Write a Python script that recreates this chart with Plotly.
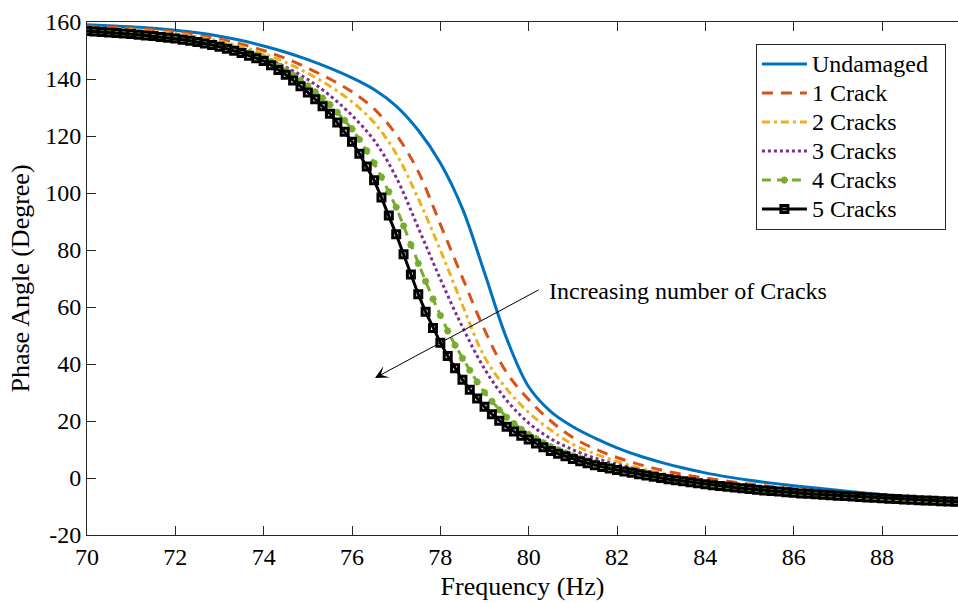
import numpy as np
import plotly.graph_objects as go

# Frequency grids (Hz)
freq_fine = np.linspace(70, 90, 121)     # 1/6 Hz sampling (marker series)
freq_coarse = np.linspace(70, 90, 41)    # 0.5 Hz sampling (line-only series)

# Phase angle (degree)
undamaged = [159.0, 158.7, 158.3, 157.8, 157.1, 156.2, 155.0, 153.5, 151.6, 149.4,
             146.8, 143.8, 140.4, 136.3, 130.5, 122.0, 110.5, 94.5, 72.0, 49.0,
             32.0, 23.3, 18.0, 14.0, 10.6, 7.8, 5.5, 3.5, 1.8, 0.4,
             -0.8, -1.8, -2.7, -3.5, -4.3, -5.1, -5.9, -6.6, -7.2, -7.8, -8.3]

crack1 = [158.5, 158.2, 157.8, 157.2, 156.5, 155.4, 154.0, 152.2, 150.0, 147.2,
          143.8, 140.0, 135.5, 129.5, 120.5, 107.5, 89.0, 70.3, 52.0, 37.0,
          27.5, 20.0, 14.2, 10.2, 7.2, 4.8, 2.8, 1.2, 0.0, -1.1,
          -2.1, -3.0, -3.8, -4.5, -5.1, -5.7, -6.3, -6.9, -7.5, -8.0, -8.5]

crack2 = [158.0, 157.7, 157.3, 156.7, 156.0, 154.8, 153.3, 151.3, 148.9, 145.8,
          142.0, 137.5, 132.0, 124.7, 113.8, 98.0, 80.0, 60.7, 42.5, 31.3,
          23.0, 16.8, 11.8, 8.5, 5.8, 3.5, 1.7, 0.2, -1.0, -2.1,
          -3.0, -3.8, -4.5, -5.1, -5.7, -6.2, -6.8, -7.3, -7.8, -8.2, -8.6]

crack3 = [157.5, 157.1, 156.6, 156.0, 155.2, 154.0, 152.4, 150.3, 147.6, 144.2,
          139.8, 134.2, 127.2, 118.5, 105.5, 87.8, 69.8, 53.0, 38.3, 27.3,
          19.3, 13.8, 9.9, 7.0, 4.8, 2.9, 1.2, -0.2, -1.4, -2.4,
          -3.3, -4.1, -4.8, -5.4, -6.0, -6.5, -7.0, -7.5, -7.9, -8.3, -8.6]

crack4 = [157.0, 156.85, 156.7, 156.55, 156.4, 156.25,
          156.1, 155.9, 155.65, 155.4, 155.15, 154.9,
          154.6, 154.25, 153.85, 153.4, 152.95, 152.45,
          151.9, 151.3, 150.6, 149.9, 149.15, 148.35,
          147.5, 146.1, 144.6, 143.0, 141.3, 139.5,
          137.6, 135.5, 133.3, 131.0, 128.3, 125.5,
          122.5, 118.8, 114.8, 110.5, 105.6, 100.4,
          95.0, 88.5, 81.8, 75.3, 69.0, 62.8,
          57.0, 51.6, 46.6, 42.0, 37.8, 33.7,
          30.0, 26.9, 23.9, 21.3, 19.1, 17.1,
          15.3, 13.8, 12.4, 11.0, 9.9, 8.8,
          7.8, 6.9, 6.0, 5.1, 4.5, 3.9,
          3.3, 2.8, 2.3, 1.8, 1.3, 0.8,
          0.3, -0.1, -0.5, -0.9, -1.25, -1.65,
          -2.0, -2.3, -2.6, -2.9, -3.15, -3.45,
          -3.7, -3.95, -4.2, -4.4, -4.6, -4.85,
          -5.05, -5.25, -5.4, -5.6, -5.75, -5.95,
          -6.1, -6.25, -6.4, -6.55, -6.7, -6.85,
          -7.0, -7.15, -7.3, -7.45, -7.6, -7.7,
          -7.85, -7.95, -8.1, -8.2, -8.3, -8.45,
          -8.55]

crack5 = [156.8, 156.65, 156.5, 156.35, 156.15, 156.0,
          155.8, 155.55, 155.3, 155.05, 154.75, 154.5,
          154.2, 153.8, 153.4, 152.95, 152.45, 151.9,
          151.3, 150.6, 149.9, 149.1, 148.2, 147.3,
          146.3, 144.8, 143.2, 141.5, 139.5, 137.5,
          135.3, 132.9, 130.4, 127.8, 124.7, 121.5,
          118.0, 113.8, 109.3, 104.5, 98.4, 92.1,
          85.5, 78.5, 71.4, 64.5, 58.3, 52.6,
          47.5, 42.8, 38.5, 34.5, 31.0, 27.9,
          25.0, 22.4, 20.1, 18.0, 16.3, 14.8,
          13.5, 12.1, 10.8, 9.5, 8.5, 7.6,
          6.7, 5.9, 5.2, 4.5, 3.9, 3.3,
          2.8, 2.3, 1.8, 1.3, 0.85, 0.4,
          0.0, -0.4, -0.75, -1.1, -1.5, -1.85,
          -2.2, -2.5, -2.8, -3.1, -3.35, -3.6,
          -3.9, -4.1, -4.35, -4.55, -4.75, -5.0,
          -5.2, -5.4, -5.55, -5.7, -5.85, -6.05,
          -6.2, -6.35, -6.5, -6.65, -6.8, -6.95,
          -7.1, -7.25, -7.4, -7.5, -7.65, -7.8,
          -7.9, -8.0, -8.15, -8.25, -8.35, -8.5,
          -8.6]

series_names = ["Undamaged", "1 Crack", "2 Cracks", "3 Cracks", "4 Cracks", "5 Cracks"]
x_ticks = [70, 72, 74, 76, 78, 80, 82, 84, 86, 88]
y_ticks = [-20, 0, 20, 40, 60, 80, 100, 120, 140, 160]
y_tick_text = ["-20", "0", "20", "40", "60", "80", "100", "120", "140", "160"]

FONT = "Liberation Serif"
AX = "#262626"


def leg(name, pad=""):
    return "<span style='font-size:24px'>" + name + pad + "</span>"


fig = go.Figure()
fig.add_trace(go.Scatter(x=freq_coarse, y=undamaged, name=leg(series_names[0], "&nbsp;&nbsp;"),
                         mode="lines",
                         line=dict(color="#0072BD", width=3, shape="spline")))
fig.add_trace(go.Scatter(x=freq_coarse, y=crack1, name=leg(series_names[1]), mode="lines",
                         line=dict(color="#D95319", width=3, dash="11px,8px", shape="spline")))
fig.add_trace(go.Scatter(x=freq_coarse, y=crack2, name=leg(series_names[2]), mode="lines",
                         line=dict(color="#EDB120", width=3, dash="8px,4px,3px,4px", shape="spline")))
fig.add_trace(go.Scatter(x=freq_coarse, y=crack3, name=leg(series_names[3]), mode="lines",
                         line=dict(color="#7E2F8E", width=3, dash="3px,3px", shape="spline")))
fig.add_trace(go.Scatter(x=freq_fine, y=crack4, name=leg(series_names[4]), mode="lines+markers",
                         line=dict(color="#77AC30", width=3, dash="9px,6px"),
                         marker=dict(symbol="asterisk-open", size=6, color="#77AC30",
                                     line=dict(color="#77AC30", width=2))))
fig.add_trace(go.Scatter(x=freq_fine, y=crack5, name=leg(series_names[5]), mode="lines+markers",
                         line=dict(color="black", width=3),
                         marker=dict(symbol="square-open", size=7, color="black",
                                     line=dict(color="black", width=3))))

fig.add_annotation(x=76.52, y=35.1, ax=80.26, ay=66.3, xref="x", yref="y",
                   axref="x", ayref="y", text="", showarrow=True,
                   arrowhead=3, arrowsize=2.2, arrowwidth=1, arrowcolor="black")
fig.add_annotation(x=80.42, y=65.6, xref="x", yref="y", text="Increasing number of Cracks",
                   showarrow=False, xanchor="left", yanchor="middle",
                   font=dict(family=FONT, size=24, color="black"))

fig.update_layout(
    width=958, height=603,
    margin=dict(l=87, r=0, t=22, b=68),
    paper_bgcolor="white", plot_bgcolor="white",
    font=dict(family=FONT, color="black"),
    showlegend=True,
    legend=dict(x=0.768, y=0.958, xanchor="left", yanchor="top",
                bgcolor="white", bordercolor=AX, borderwidth=1,
                font=dict(family=FONT, size=20, color="black"),
                itemwidth=45, tracegroupgap=0),
    xaxis=dict(range=[70, 89.72], tickvals=x_ticks, ticks="inside", ticklen=9,
               tickcolor=AX, showline=True, linecolor=AX, linewidth=1, mirror="ticks",
               showgrid=False, zeroline=False,
               tickfont=dict(family=FONT, size=24, color="black"),
               title=dict(text="Frequency (Hz)", standoff=8,
                          font=dict(family=FONT, size=26, color="black"))),
    yaxis=dict(range=[-20, 160], tickvals=y_ticks, ticktext=y_tick_text,
               ticks="inside", ticklen=9,
               tickcolor=AX, showline=True, linecolor=AX, linewidth=1,
               showgrid=False, zeroline=False,
               tickfont=dict(family=FONT, size=24, color="black"),
               title=dict(text="Phase Angle (Degree)", standoff=8,
                          font=dict(family=FONT, size=26, color="black"))),
)

fig.write_html("out.html")
